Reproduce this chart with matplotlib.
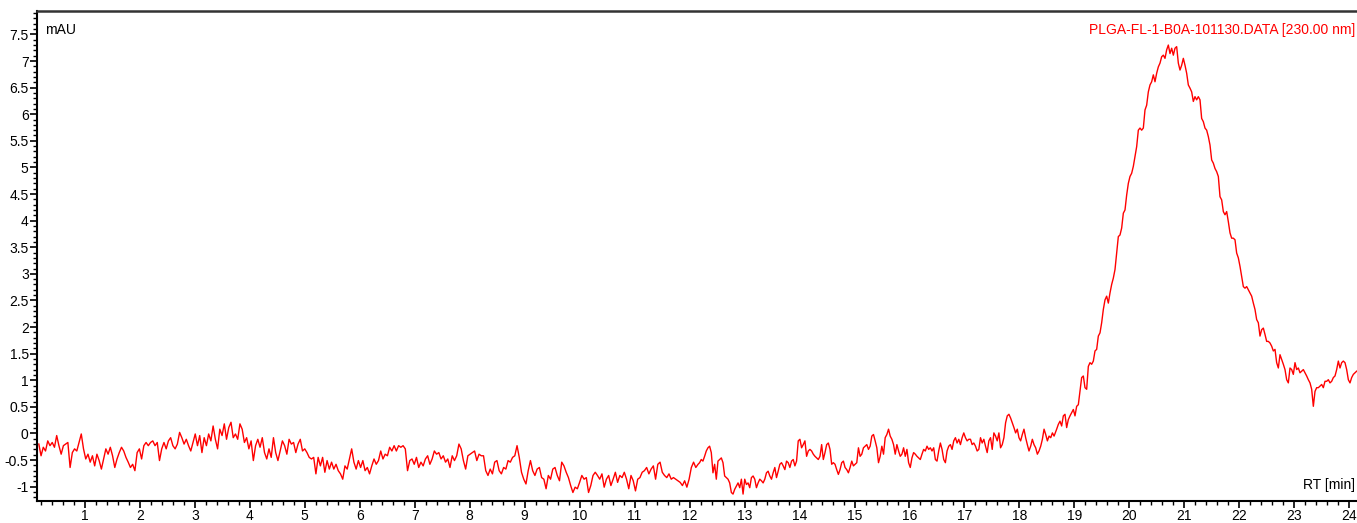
import numpy as np
import matplotlib
matplotlib.use("Agg")
import matplotlib.pyplot as plt
from matplotlib.ticker import MultipleLocator, FuncFormatter

plt.rcParams['font.family'] = ['Liberation Sans', 'DejaVu Sans']
plt.rcParams['axes.unicode_minus'] = False

# trace, in three stretches (RT in min, signal in mAU)
rt_a = np.linspace(0.163, 12.154, 296)
mau_a = [
    -0.20, -0.42, -0.26, -0.33, -0.14, -0.23, -0.17, -0.26, -0.04, -0.23,
    -0.39, -0.23, -0.20, -0.17, -0.64, -0.36, -0.29, -0.33, -0.17, -0.01,
    -0.29, -0.48, -0.39, -0.54, -0.42, -0.61, -0.39, -0.51, -0.67, -0.48,
    -0.29, -0.39, -0.26, -0.42, -0.64, -0.48, -0.36, -0.26, -0.33, -0.45,
    -0.54, -0.64, -0.58, -0.70, -0.36, -0.29, -0.48, -0.23, -0.17, -0.23,
    -0.17, -0.14, -0.23, -0.17, -0.51, -0.29, -0.17, -0.29, -0.14, -0.08,
    -0.23, -0.29, -0.20, 0.02, -0.08, -0.20, -0.11, -0.23, -0.33, -0.17,
    -0.01, -0.23, -0.04, -0.36, -0.08, -0.23, -0.01, -0.14, 0.14, -0.11,
    -0.29, 0.08, -0.04, 0.18, -0.11, 0.11, 0.21, -0.08, -0.01, -0.11,
    0.18, 0.08, -0.17, -0.08, -0.29, -0.14, -0.51, -0.23, -0.11, -0.26,
    -0.08, -0.36, -0.48, -0.29, -0.45, -0.08, -0.36, -0.51, -0.33, -0.14,
    -0.23, -0.39, -0.11, -0.20, -0.17, -0.36, -0.20, -0.11, -0.33, -0.29,
    -0.36, -0.45, -0.48, -0.45, -0.76, -0.45, -0.61, -0.45, -0.73, -0.51,
    -0.67, -0.54, -0.67, -0.58, -0.70, -0.76, -0.86, -0.61, -0.67, -0.48,
    -0.29, -0.54, -0.67, -0.51, -0.64, -0.51, -0.70, -0.64, -0.76, -0.61,
    -0.48, -0.58, -0.51, -0.33, -0.48, -0.39, -0.42, -0.26, -0.33, -0.23,
    -0.33, -0.23, -0.26, -0.23, -0.29, -0.70, -0.51, -0.48, -0.58, -0.45,
    -0.64, -0.54, -0.61, -0.48, -0.42, -0.58, -0.48, -0.33, -0.39, -0.36,
    -0.48, -0.42, -0.54, -0.48, -0.64, -0.42, -0.51, -0.42, -0.20, -0.29,
    -0.51, -0.67, -0.42, -0.39, -0.36, -0.33, -0.51, -0.39, -0.42, -0.42,
    -0.70, -0.79, -0.67, -0.76, -0.54, -0.51, -0.70, -0.76, -0.64, -0.67,
    -0.51, -0.54, -0.45, -0.42, -0.23, -0.45, -0.73, -0.86, -0.95, -0.70,
    -0.51, -0.70, -0.79, -0.67, -0.64, -0.83, -0.86, -1.04, -0.79, -0.86,
    -0.67, -0.64, -0.79, -0.89, -0.54, -0.61, -0.73, -0.83, -0.98, -1.11,
    -1.01, -1.04, -0.92, -0.79, -0.86, -0.83, -1.11, -0.98, -0.79, -0.73,
    -0.79, -0.86, -0.76, -1.01, -0.86, -0.79, -0.98, -0.86, -0.73, -0.92,
    -0.79, -0.83, -0.73, -0.86, -1.04, -0.79, -0.89, -1.08, -0.86, -0.83,
    -0.73, -0.70, -0.64, -0.76, -0.67, -0.61, -0.86, -0.58, -0.54, -0.73,
    -0.79, -0.83, -0.76, -0.86, -0.83, -0.86, -0.89, -0.92, -0.98, -0.89,
    -1.01, -0.86, -0.64, -0.54, -0.64, -0.58,
]

rt_b = np.linspace(12.182, 18.630, 213)
mau_b = [
    -0.55, -0.49, -0.52, -0.43, -0.33, -0.27, -0.24, -0.36, -0.74, -0.58,
    -0.86, -0.52, -0.49, -0.46, -0.55, -0.80, -0.83, -0.86, -0.93, -1.11,
    -1.14, -1.05, -0.99, -0.93, -1.02, -0.86, -1.14, -0.86, -0.96, -0.93,
    -1.02, -0.83, -0.80, -0.86, -1.02, -0.93, -0.86, -0.89, -0.93, -0.86,
    -0.74, -0.71, -0.80, -0.86, -0.74, -0.64, -0.83, -0.71, -0.58, -0.55,
    -0.61, -0.68, -0.52, -0.55, -0.64, -0.52, -0.49, -0.61, -0.52, -0.14,
    -0.11, -0.27, -0.21, -0.14, -0.43, -0.33, -0.30, -0.33, -0.39, -0.43,
    -0.46, -0.49, -0.43, -0.21, -0.49, -0.36, -0.21, -0.18, -0.30, -0.58,
    -0.55, -0.58, -0.68, -0.77, -0.68, -0.55, -0.52, -0.64, -0.68, -0.74,
    -0.64, -0.52, -0.61, -0.58, -0.55, -0.27, -0.43, -0.39, -0.27, -0.24,
    -0.21, -0.30, -0.24, -0.05, -0.02, -0.14, -0.27, -0.55, -0.43, -0.24,
    -0.39, -0.08, -0.02, 0.08, -0.05, -0.11, -0.21, -0.39, -0.21, -0.33,
    -0.43, -0.39, -0.27, -0.43, -0.30, -0.55, -0.64, -0.46, -0.36, -0.39,
    -0.43, -0.46, -0.49, -0.39, -0.30, -0.33, -0.24, -0.30, -0.27, -0.33,
    -0.27, -0.49, -0.52, -0.33, -0.18, -0.30, -0.49, -0.55, -0.33, -0.24,
    -0.21, -0.30, -0.14, -0.08, -0.18, -0.11, -0.21, -0.08, 0.01, -0.08,
    -0.14, -0.11, -0.11, -0.21, -0.18, -0.24, -0.33, -0.30, -0.08, -0.18,
    -0.11, -0.24, -0.36, -0.14, -0.08, -0.30, 0.01, -0.05, -0.14, 0.01,
    -0.27, -0.21, -0.08, 0.20, 0.33, 0.36, 0.29, 0.20, 0.11, 0.01,
    0.08, -0.08, -0.14, -0.02, 0.08, -0.08, -0.21, -0.33, -0.24, -0.11,
    -0.21, -0.27, -0.39, -0.33, -0.24, -0.11, 0.08, -0.02, -0.14, -0.05,
    -0.08, 0.01, -0.05,
]

rt_c = np.linspace(18.677, 24.134, 181)
mau_c = [
    0.08, 0.17, 0.23, 0.14, 0.33, 0.36, 0.11, 0.26, 0.33, 0.39,
    0.45, 0.33, 0.51, 0.54, 0.79, 1.05, 1.08, 0.86, 0.83, 1.26,
    1.33, 1.30, 1.36, 1.55, 1.58, 1.83, 1.89, 2.08, 2.33, 2.51,
    2.58, 2.45, 2.64, 2.80, 2.92, 3.08, 3.39, 3.70, 3.73, 3.86,
    4.14, 4.20, 4.48, 4.70, 4.83, 4.89, 5.02, 5.20, 5.39, 5.70,
    5.74, 5.70, 5.74, 6.08, 6.17, 6.42, 6.55, 6.61, 6.74, 6.61,
    6.77, 6.89, 6.96, 7.08, 7.11, 7.05, 7.21, 7.30, 7.14, 7.24,
    7.11, 7.24, 7.27, 6.96, 6.83, 6.92, 7.05, 6.92, 6.77, 6.55,
    6.49, 6.42, 6.24, 6.33, 6.27, 6.33, 6.27, 5.92, 5.86, 5.74,
    5.70, 5.58, 5.42, 5.14, 5.08, 4.98, 4.92, 4.83, 4.45, 4.39,
    4.17, 4.11, 4.17, 3.98, 3.77, 3.67, 3.67, 3.64, 3.39, 3.30,
    3.14, 2.95, 2.76, 2.73, 2.76, 2.70, 2.64, 2.58, 2.45, 2.33,
    2.14, 2.08, 1.83, 1.95, 1.98, 1.86, 1.73, 1.73, 1.70, 1.64,
    1.55, 1.58, 1.33, 1.23, 1.48, 1.39, 1.30, 1.20, 1.01, 0.95,
    1.23, 1.20, 1.11, 1.33, 1.20, 1.23, 1.14, 1.17, 1.20, 1.14,
    1.08, 1.01, 0.95, 0.83, 0.51, 0.79, 0.86, 0.86, 0.89, 0.92,
    0.86, 0.98, 0.98, 1.01, 0.95, 0.98, 1.05, 1.08, 1.20, 1.36,
    1.23, 1.33, 1.36, 1.33, 1.20, 1.01, 0.95, 1.05, 1.11, 1.14,
    1.17,
]

rt = np.concatenate([rt_a, rt_b, rt_c])
mau = np.concatenate([mau_a, mau_b, mau_c])

trace_name = "PLGA-FL-1-B0A-101130.DATA [230.00 nm]"

fig = plt.figure(figsize=(13.57, 5.23), dpi=100)
ax = fig.add_axes([37 / 1357, 22 / 523, 1320 / 1357, 490 / 523])

ax.plot(rt, mau, color='red', linewidth=1.0)

ax.set_xlim(0.13, 24.14)
ax.set_ylim(-1.27, 7.94)

ax.xaxis.set_major_locator(MultipleLocator(1))
ax.xaxis.set_minor_locator(MultipleLocator(0.2))
ax.yaxis.set_major_locator(MultipleLocator(0.5))
ax.yaxis.set_minor_locator(MultipleLocator(0.1))
fmt = FuncFormatter(lambda v, p: '{:g}'.format(round(v, 2)))
ax.xaxis.set_major_formatter(fmt)
ax.yaxis.set_major_formatter(fmt)

ax.tick_params(which='major', direction='out', length=5, width=1.2,
               labelsize=10, color='black')
ax.tick_params(which='minor', direction='out', length=3, width=1.0,
               color='black')
ax.tick_params(axis='y', pad=1)
ax.tick_params(axis='x', pad=0.5)

ax.spines['right'].set_visible(False)
ax.spines['left'].set_linewidth(1.5)
ax.spines['bottom'].set_linewidth(1.5)
ax.spines['top'].set_linewidth(1.8)
ax.spines['top'].set_color('#333333')

ax.text(0.006, 0.975, "mAU", transform=ax.transAxes, fontsize=10,
        ha='left', va='top')
ax.text(0.9985, 0.975, trace_name, transform=ax.transAxes, fontsize=10,
        ha='right', va='top', color='red')
ax.text(0.9985, 0.018, "RT [min]", transform=ax.transAxes, fontsize=10,
        ha='right', va='bottom')

fig.savefig("out.png", dpi=100)
